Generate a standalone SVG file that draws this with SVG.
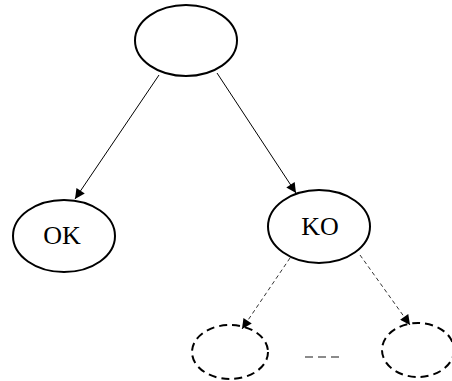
<svg xmlns="http://www.w3.org/2000/svg" width="452" height="381" viewBox="0 0 452 381">
<defs>
<style>
.n{fill:none;stroke:#000;stroke-width:2}
.d{fill:none;stroke:#000;stroke-width:2;stroke-dasharray:8,5}
.e{stroke:#000;stroke-width:1;fill:none}
.ed{stroke:#333;stroke-width:1;fill:none;stroke-dasharray:4,3}
.t{font-family:"Liberation Serif",serif;font-size:26px;fill:#000;text-anchor:middle}
</style>
<marker id="ah" viewBox="0 0 10 10" refX="10" refY="5" markerWidth="12" markerHeight="10" markerUnits="userSpaceOnUse" orient="auto">
<path d="M0,0 L10,5 L0,10 Z" fill="#000"/>
</marker>
</defs>
<rect width="452" height="381" fill="#fff"/>
<g id="connectors">
<line class="e" x1="159" y1="75" x2="75" y2="199" marker-end="url(#ah)"/>
<line class="e" x1="217" y1="73" x2="296" y2="193" marker-end="url(#ah)"/>
<line class="ed" x1="290" y1="258" x2="242" y2="329" marker-end="url(#ah)"/>
<line class="ed" x1="360" y1="255" x2="410" y2="325" marker-end="url(#ah)"/>
<line x1="305" y1="357" x2="343" y2="357" stroke="#666" stroke-width="1.5" stroke-dasharray="8,5"/>
</g>
<g id="root"><ellipse class="n" cx="186" cy="40.5" rx="51" ry="35.5"/></g>
<g id="ok"><ellipse class="n" cx="64" cy="236" rx="51" ry="36"/><text class="t" x="62" y="244">OK</text></g>
<g id="ko"><ellipse class="n" cx="319" cy="226.5" rx="51" ry="36.5"/><text class="t" x="320" y="235">KO</text></g>
<g id="child1"><ellipse class="d" cx="230" cy="352" rx="38" ry="27"/></g>
<g id="child2"><ellipse class="d" cx="418" cy="350" rx="36" ry="27"/></g>
</svg>
